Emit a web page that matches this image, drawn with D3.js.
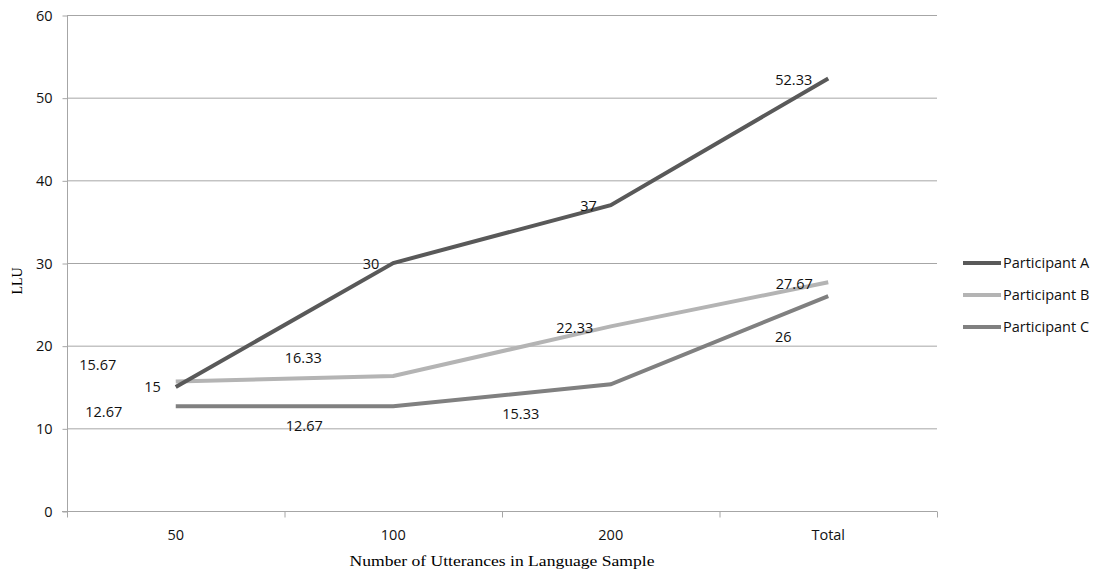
<!DOCTYPE html>
<html><head><meta charset="utf-8">
<script src="https://cdn.jsdelivr.net/npm/d3@7"></script>
<style>body{margin:0;background:#fff}</style>
</head><body>
<svg id="c" width="1095" height="571"></svg>
<script>
const categories = ["50", "100", "200", "Total"];
const seriesNames = ["Participant A", "Participant B", "Participant C"];
const participantA = [15, 30, 37, 52.33];
const participantB = [15.67, 16.33, 22.33, 27.67];
const participantC = [12.67, 12.67, 15.33, 26];
const yTicks = [0, 10, 20, 30, 40, 50, 60];
const colors = ["#595959", "#b4b4b4", "#808080"];
// label offsets (layout only), pixel dx/dy from each point, with anchor
const labelOffsets = [
  [[-15,0],[-14,1],[-14,1],[-16,2]],
  [[-78,-17],[-90,-18],[-36,2],[-34,2]],
  [[-72,6],[-89,20],[-90,30],[-45,41]]
];
const labelAnchors = ["end","middle","middle"];
const FONT = "'Open Sans', sans-serif";
const FS = 14.5;

const series = [participantA, participantB, participantC];
const svg = d3.select("#c");
const m = {l:67, r:937, t:15, b:511};
const x = d3.scaleBand().domain(categories).range([m.l, m.r]);
const y = d3.scaleLinear().domain([0,60]).range([m.b, m.t]);

// gridlines
svg.append("g").selectAll("line").data(yTicks.filter(d=>d>0)).join("line")
  .attr("x1", m.l).attr("x2", m.r).attr("y1", d=>y(d)+0.5).attr("y2", d=>y(d)+0.5)
  .attr("stroke", "#a6a6a6").attr("stroke-width", 1);

// y axis
const ya = svg.append("g").attr("transform", `translate(${m.l+0.5},0)`)
  .call(d3.axisLeft(y).tickValues(yTicks).tickSize(5).tickPadding(10));
ya.select(".domain").attr("stroke", "#a6a6a6").attr("d", `M0,${m.t}V${m.b+0.5}`);
ya.selectAll(".tick line").attr("stroke", "#a6a6a6").attr("transform","translate(0,0.5)");
ya.selectAll(".tick text").attr("font-family", FONT).attr("font-size", FS).attr("fill", "#111").attr("dy","0.35em");

// x axis
const xa = svg.append("g").attr("transform", `translate(0,${m.b+0.5})`);
xa.append("line").attr("x1", m.l-5).attr("x2", m.r).attr("stroke", "#a6a6a6");
const bounds = categories.map(c=>x(c)).concat([m.r]);
xa.selectAll("line.t").data(bounds).join("line").attr("class","t")
  .attr("x1", d=>d+0.5).attr("x2", d=>d+0.5).attr("y1", 0).attr("y2", 6).attr("stroke", "#a6a6a6");
xa.selectAll("text").data(categories).join("text")
  .attr("x", d=>x(d)+x.bandwidth()/2).attr("y", 28).attr("text-anchor","middle")
  .attr("font-family", FONT).attr("font-size", FS).attr("fill", "#111").text(d=>d);

// axis titles
svg.append("text").attr("x", 502).attr("y", 566).attr("text-anchor","middle")
  .attr("font-family","'Liberation Serif', serif").attr("font-size", 15).attr("fill","#000")
  .attr("textLength", 305).attr("lengthAdjust","spacingAndGlyphs")
  .text("Number of Utterances in Language Sample");
svg.append("text").attr("transform","translate(22,281) rotate(-90)").attr("text-anchor","middle")
  .attr("font-family","'Liberation Serif', serif").attr("font-size", 14).attr("fill","#000").text("LLU");

// lines
const line = d3.line().x((d,i)=>x(categories[i])+x.bandwidth()/2).y(d=>y(d));
[2,1,0].forEach(s=>{
  svg.append("path").datum(series[s]).attr("d", line).attr("fill","none")
    .attr("stroke", colors[s]).attr("stroke-width", 4);
});

// data labels
series.forEach((vals,s)=>{
  svg.append("g").selectAll("text").data(vals).join("text")
    .attr("x",(d,i)=>x(categories[i])+x.bandwidth()/2+labelOffsets[s][i][0])
    .attr("y",(d,i)=>y(d)+labelOffsets[s][i][1])
    .attr("dy","0.35em").attr("text-anchor", labelAnchors[s])
    .attr("font-family",FONT).attr("font-size",FS).attr("fill","#111")
    .text(d=>d);
});

// legend
const lg = svg.append("g");
seriesNames.forEach((n,i)=>{
  const yy = 263 + i*32;
  lg.append("line").attr("x1",963).attr("x2",1001).attr("y1",yy).attr("y2",yy)
    .attr("stroke",colors[i]).attr("stroke-width",4);
  lg.append("text").attr("x",1003).attr("y",yy).attr("dy","0.35em")
    .attr("font-family",FONT).attr("font-size",FS).attr("fill","#111").text(n);
});
</script>
</body></html>
